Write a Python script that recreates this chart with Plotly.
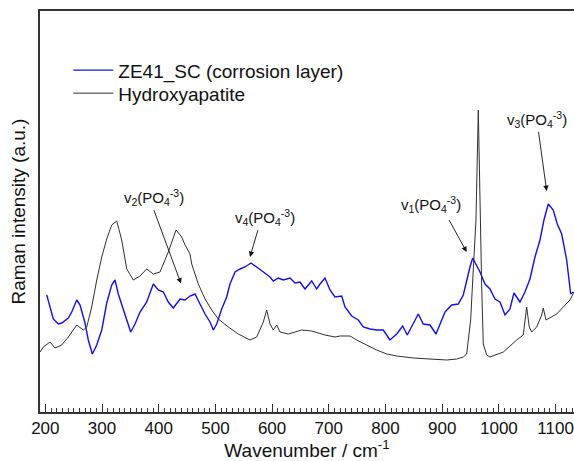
import plotly.graph_objects as go

# ZE41_SC (corrosion layer) spectrum
ze41_wn = [202.5, 214.1, 222.9, 228.9, 240.6, 246.6, 255.4, 261.2, 270.0, 275.8, 282.9, 290.7,
           299.5, 308.3, 317.1, 322.9, 328.7, 334.7, 343.6, 350.6, 358.2, 367.0, 378.8, 390.5,
           399.3, 408.1, 416.9, 425.7, 437.6, 446.4, 455.2, 464.0, 472.8, 481.7, 490.5, 496.3,
           502.3, 511.1, 519.9, 525.7, 534.6, 543.4, 552.2, 562.8, 572.8, 584.5, 596.3, 602.1,
           610.9, 619.8, 631.6, 640.4, 649.2, 658.0, 669.8, 678.7, 684.5, 693.3, 702.1, 710.9,
           722.7, 728.6, 740.4, 752.0, 760.8, 772.7, 784.5, 796.1, 807.9, 819.8, 830.3, 838.4,
           848.0, 857.8, 866.7, 878.5, 889.1, 896.1, 905.0, 916.8, 928.4, 937.2, 943.2, 949.0,
           953.8, 960.8, 966.7, 975.5, 984.3, 993.1, 1002.0, 1010.8, 1019.6, 1026.6, 1037.2,
           1046.0, 1054.8, 1063.7, 1072.5, 1079.5, 1087.1, 1095.9, 1103.0, 1110.8, 1119.6,
           1126.6, 1131.2]
ze41_int = [117, 93, 88, 89, 94, 100, 112, 107, 89, 72, 58, 67,
            82, 109, 127, 132, 118, 107, 93, 80, 88, 100, 110, 128,
            122, 120, 110, 104, 113, 112, 116, 118, 108, 98, 90, 82,
            88, 103, 115, 128, 140, 143, 145, 149, 145, 140, 135, 131,
            134, 132, 134, 129, 130, 123, 131, 123, 128, 134, 122, 115,
            116, 105, 96, 92, 85, 83, 82, 82, 72, 78, 86, 77,
            88, 98, 88, 87, 78, 87, 100, 107, 108, 117, 132, 145,
            154, 147, 140, 128, 123, 113, 110, 97, 103, 119, 110,
            120, 133, 155, 172, 192, 208, 202, 188, 178, 152,
            118, 120]

# Hydroxyapatite reference spectrum
ha_wn = [190.7, 196.5, 208.3, 217.1, 228.9, 240.6, 255.4, 267.0, 273.0, 281.8, 290.7, 299.5,
         308.3, 317.1, 325.9, 334.7, 343.6, 355.2, 367.0, 378.8, 390.5, 402.3, 416.9, 430.5,
         440.6, 446.4, 455.2, 458.2, 469.8, 481.7, 493.5, 505.1, 522.8, 540.4, 561.0, 572.8,
         584.5, 590.5, 596.3, 602.1, 608.1, 613.9, 628.6, 652.2, 669.8, 693.3, 710.9, 719.8,
         737.4, 749.2, 766.8, 784.5, 802.1, 819.8, 849.0, 878.5, 907.9, 925.6, 937.2, 943.2,
         950.2, 954.8, 959.6, 963.7, 966.7, 969.7, 972.5, 978.5, 984.3, 1007.8, 1031.4, 1043.0,
         1049.0, 1053.6, 1057.8, 1066.7, 1075.5, 1078.3, 1083.1, 1101.9, 1125.4, 1132.5]
ha_int = [60, 65, 70, 64, 67, 75, 87, 82, 85, 105, 132, 155,
          173, 187, 191, 172, 143, 132, 136, 143, 138, 140, 160, 182,
          175, 167, 158, 148, 128, 113, 102, 93, 85, 78, 72, 75,
          90, 102, 88, 82, 87, 80, 78, 82, 81, 77, 75, 76,
          76, 72, 67, 62, 58, 56, 54, 53, 52, 53, 55, 58,
          92, 142, 192, 302, 192, 125, 68, 57, 55, 60, 72, 77,
          105, 85, 80, 85, 97, 104, 92, 98, 112, 120]

x_ticks = [200, 300, 400, 500, 600, 700, 800, 900, 1000, 1100]

FONT = "Liberation Sans, Arial, sans-serif"

fig = go.Figure()
fig.add_trace(go.Scatter(x=ze41_wn, y=ze41_int, mode="lines",
                         name="ZE41_SC (corrosion layer)", legend="legend",
                         line=dict(color="#1010f0", width=1.4)))
fig.add_trace(go.Scatter(x=ha_wn, y=ha_int, mode="lines",
                         name="Hydroxyapatite", legend="legend2",
                         line=dict(color="#303030", width=1)))

ann_font = dict(family=FONT, size=15, color="#111")
labels = [
    ("v<sub>2</sub>(PO<sub>4</sub><sup>-3</sup>)", 391, 215, 390.5, 203.4, 439.3, 128.4),
    ("v<sub>4</sub>(PO<sub>4</sub><sup>-3</sup>)", 588, 195, 575.7, 183.4, 561.0, 155),
    ("v<sub>1</sub>(PO<sub>4</sub><sup>-3</sup>)", 881, 208, 910.8, 193.4, 943.2, 160),
    ("v<sub>3</sub>(PO<sub>4</sub><sup>-3</sup>)", 1068, 293, 1069.5, 281.7, 1084.3, 221),
]
for txt, tx, ty, axx, ayy, hx, hy in labels:
    fig.add_annotation(x=tx, y=ty, text=txt, showarrow=False, font=ann_font,
                       xanchor="center", yanchor="middle")
    fig.add_annotation(x=hx, y=hy, ax=axx, ay=ayy, axref="x", ayref="y",
                       text="", showarrow=True, arrowhead=2, arrowsize=1.2,
                       arrowwidth=0.9, arrowcolor="#111")

leg_common = dict(xanchor="left", yanchor="middle", bgcolor="rgba(0,0,0,0)",
                  font=dict(family=FONT, size=19, color="#111"), itemwidth=40)

fig.update_layout(
    width=574, height=461,
    margin=dict(l=40, r=0, t=11, b=49),
    paper_bgcolor="white", plot_bgcolor="white",
    font=dict(family=FONT, size=17, color="#111"),
    showlegend=True,
    legend=dict(x=0.053, y=(411.7 - 70) / 401, **leg_common),
    legend2=dict(x=0.053, y=(411.7 - 93) / 401, **leg_common),
)
fig.update_xaxes(
    range=[190.6, 1132.5], showgrid=False, zeroline=False, automargin=False,
    showline=True, linecolor="#333", linewidth=1.5, mirror=True,
    tickmode="array", tickvals=x_ticks, ticks="inside", ticklen=8,
    tickwidth=1, tickcolor="#333", tickfont=dict(family=FONT, size=17),
    minor=dict(dtick=10, ticks="inside", ticklen=4, tickcolor="#333", tickwidth=1),
    title=dict(text="Wavenumber / cm<sup>-1</sup>", font=dict(family=FONT, size=19), standoff=0),
)
fig.update_yaxes(
    range=[0, 401], showgrid=False, zeroline=False, automargin=False,
    showline=True, linecolor="#333", linewidth=1.5,
    showticklabels=False, ticks="",
    title=dict(text="Raman intensity (a.u.)", font=dict(family=FONT, size=19), standoff=8),
)

fig.write_html("out.html", config={"displayModeBar": False},
               post_script="document.body.style.margin='0';document.body.style.overflow='hidden';")
